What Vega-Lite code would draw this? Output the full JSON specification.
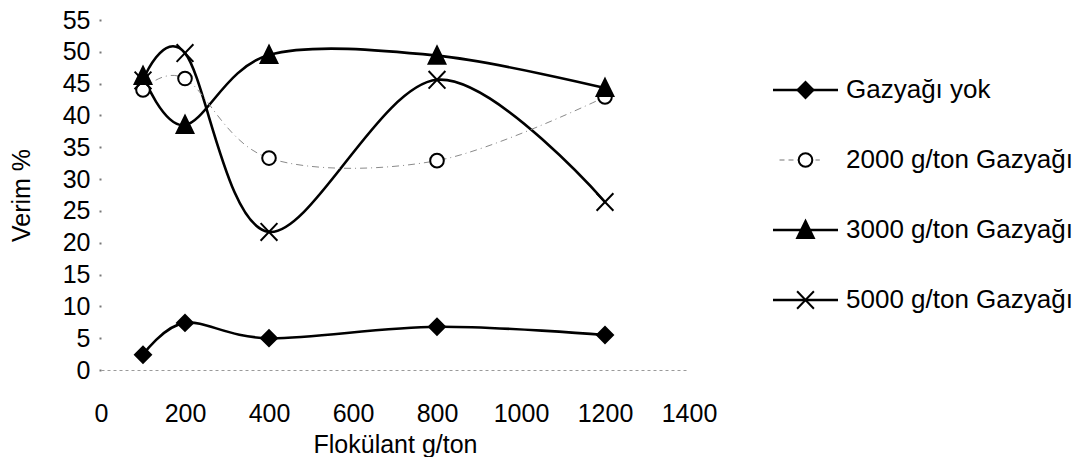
{
  "$schema": "https://vega.github.io/schema/vega-lite/v6.json",
  "autosize": "pad",
  "padding": {"left": 9, "top": 8, "right": 0, "bottom": 0},
  "background": "white",
  "bounds": "flush",
  "spacing": 84,
  "config": {
    "view": {"stroke": null},
    "font": "Liberation Sans",
    "axis": {
      "labelFont": "Liberation Sans",
      "titleFont": "Liberation Sans",
      "labelFontSize": 25,
      "titleFontSize": 25,
      "titleFontWeight": "normal",
      "labelColor": "black",
      "titleColor": "black",
      "grid": false
    }
  },
  "data": {
    "values": [
      {"flokulant": 100, "verim": 2.4, "seri": "Gazyağı yok"},
      {"flokulant": 200, "verim": 7.4, "seri": "Gazyağı yok"},
      {"flokulant": 400, "verim": 5.0, "seri": "Gazyağı yok"},
      {"flokulant": 800, "verim": 6.8, "seri": "Gazyağı yok"},
      {"flokulant": 1200, "verim": 5.5, "seri": "Gazyağı yok"},
      {"flokulant": 100, "verim": 44.0, "seri": "2000 g/ton Gazyağı"},
      {"flokulant": 200, "verim": 45.8, "seri": "2000 g/ton Gazyağı"},
      {"flokulant": 400, "verim": 33.3, "seri": "2000 g/ton Gazyağı"},
      {"flokulant": 800, "verim": 32.9, "seri": "2000 g/ton Gazyağı"},
      {"flokulant": 1200, "verim": 42.9, "seri": "2000 g/ton Gazyağı"},
      {"flokulant": 100, "verim": 46.2, "seri": "3000 g/ton Gazyağı"},
      {"flokulant": 200, "verim": 38.5, "seri": "3000 g/ton Gazyağı"},
      {"flokulant": 400, "verim": 49.5, "seri": "3000 g/ton Gazyağı"},
      {"flokulant": 800, "verim": 49.4, "seri": "3000 g/ton Gazyağı"},
      {"flokulant": 1200, "verim": 44.3, "seri": "3000 g/ton Gazyağı"},
      {"flokulant": 100, "verim": 45.5, "seri": "5000 g/ton Gazyağı"},
      {"flokulant": 200, "verim": 49.8, "seri": "5000 g/ton Gazyağı"},
      {"flokulant": 400, "verim": 21.7, "seri": "5000 g/ton Gazyağı"},
      {"flokulant": 800, "verim": 45.6, "seri": "5000 g/ton Gazyağı"},
      {"flokulant": 1200, "verim": 26.4, "seri": "5000 g/ton Gazyağı"}
    ]
  },
  "hconcat": [
    {
      "width": 588,
      "height": 350,
      "encoding": {
        "x": {
          "field": "flokulant",
          "type": "quantitative",
          "title": "Flokülant g/ton",
          "scale": {"domain": [0, 1400], "nice": false, "zero": false},
          "axis": {
            "values": [0, 200, 400, 600, 800, 1000, 1200, 1400],
            "format": "d",
            "labelOverlap": false,
            "labelFlush": false,
            "ticks": false,
            "labelPadding": 31,
            "domainColor": "#9a9a9a",
            "domainDash": [3, 3],
            "domainWidth": 1,
            "titleBaseline": "alphabetic",
            "titleY": 82
          }
        },
        "y": {
          "field": "verim",
          "type": "quantitative",
          "title": "Verim %",
          "scale": {"domain": [0, 55], "nice": false},
          "axis": {
            "values": [0, 5, 10, 15, 20, 25, 30, 35, 40, 45, 50, 55],
            "labelOverlap": false,
            "labelFlush": false,
            "domain": false,
            "tickSize": 2,
            "tickWidth": 2,
            "tickColor": "#777",
            "labelPadding": 9,
            "titleBaseline": "alphabetic",
            "titleX": -72
          }
        }
      },
      "layer": [
        {
          "transform": [{"filter": "datum.seri !== '2000 g/ton Gazyağı'"}],
          "mark": {"type": "line", "interpolate": "cardinal", "color": "black", "strokeWidth": 2.6},
          "encoding": {"detail": {"field": "seri"}}
        },
        {
          "transform": [{"filter": "datum.seri === '2000 g/ton Gazyağı'"}],
          "mark": {"type": "line", "interpolate": "cardinal", "color": "#8a8a8a", "strokeWidth": 1, "strokeDash": [7, 4, 1, 4]}
        },
        {
          "mark": {"type": "point", "filled": true, "stroke": "black", "strokeWidth": 2, "size": 256, "opacity": 1},
          "encoding": {
            "shape": {
              "field": "seri",
              "type": "nominal",
              "legend": null,
              "scale": {
                "domain": ["Gazyağı yok", "2000 g/ton Gazyağı", "3000 g/ton Gazyağı", "5000 g/ton Gazyağı"],
                "range": [
                  "diamond",
                  "M0.85,0A0.85,0.85,0,1,0,-0.85,0A0.85,0.85,0,1,0,0.85,0Z",
                  "M0,-1.15L1.05,1L-1.05,1Z",
                  "M-1.05,-1.1L1.05,1.1M-1.05,1.1L1.05,-1.1"
                ]
              }
            },
            "fill": {
              "field": "seri",
              "type": "nominal",
              "legend": null,
              "scale": {
                "domain": ["Gazyağı yok", "2000 g/ton Gazyağı", "3000 g/ton Gazyağı", "5000 g/ton Gazyağı"],
                "range": ["black", "white", "black", "transparent"]
              }
            }
          }
        }
      ]
    },
    {
      "width": 65,
      "height": 350,
      "transform": [{"aggregate": [{"op": "count", "as": "n"}], "groupby": ["seri"]}],
      "encoding": {
        "y": {
          "field": "seri",
          "type": "nominal",
          "scale": {
            "type": "point",
            "domain": ["Gazyağı yok", "2000 g/ton Gazyağı", "3000 g/ton Gazyağı", "5000 g/ton Gazyağı"],
            "padding": 1.07
          },
          "axis": null
        }
      },
      "layer": [
        {
          "transform": [{"filter": "datum.seri !== '2000 g/ton Gazyağı'"}],
          "mark": {"type": "rule", "color": "black", "strokeWidth": 2.6},
          "encoding": {
            "x": {"datum": 0, "type": "quantitative", "scale": {"domain": [0, 1]}, "axis": null},
            "x2": {"datum": 1}
          }
        },
        {
          "transform": [{"filter": "datum.seri === '2000 g/ton Gazyağı'"}],
          "mark": {"type": "rule", "color": "#777777", "strokeWidth": 1.2, "strokeDash": [5, 4]},
          "encoding": {
            "x": {"datum": 0.1, "type": "quantitative"},
            "x2": {"datum": 0.72}
          }
        },
        {
          "mark": {"type": "point", "filled": true, "stroke": "black", "strokeWidth": 2, "size": 256, "opacity": 1},
          "encoding": {
            "x": {"datum": 0.5, "type": "quantitative"},
            "shape": {"field": "seri", "type": "nominal", "legend": null},
            "fill": {"field": "seri", "type": "nominal", "legend": null}
          }
        },
        {
          "mark": {"type": "text", "align": "left", "baseline": "middle", "dx": 8, "font": "Liberation Sans", "fontSize": 26, "color": "black"},
          "encoding": {
            "x": {"datum": 1, "type": "quantitative"},
            "text": {"field": "seri", "type": "nominal"}
          }
        }
      ]
    }
  ]
}
